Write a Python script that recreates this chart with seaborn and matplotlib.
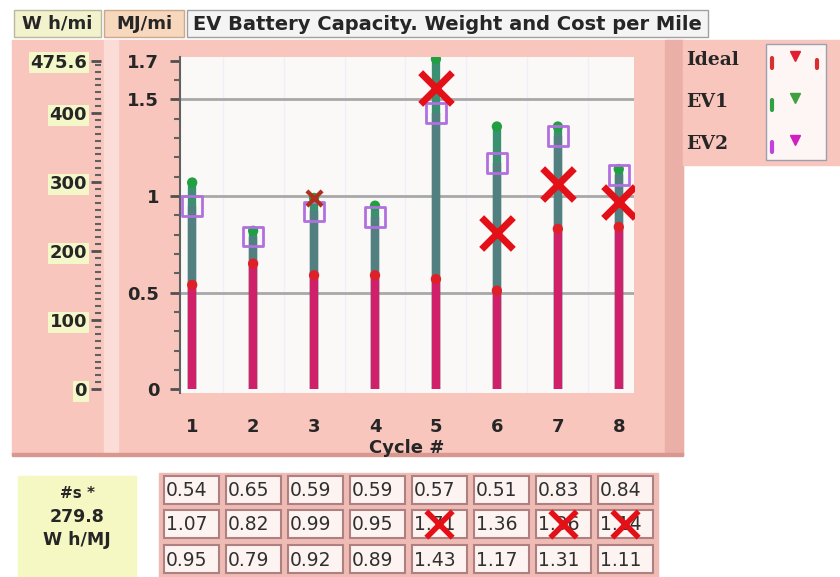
import numpy as np
import pandas as pd
import seaborn as sns
import matplotlib.pyplot as plt
from matplotlib.patches import Rectangle

# values per cycle
cycles = [1, 2, 3, 4, 5, 6, 7, 8]
ideal = [0.54, 0.65, 0.59, 0.59, 0.57, 0.51, 0.83, 0.84]
ev1 = [1.07, 0.82, 0.99, 0.95, 1.71, 1.36, 1.36, 1.14]
ev2 = [0.95, 0.79, 0.92, 0.89, 1.43, 1.17, 1.31, 1.11]

# red cursor crosses drawn on the plot
cross_cycles = [5, 6, 7, 8]
cross_vals = [1.56, 0.81, 1.06, 0.97]
small_cross_cycles = [3]
small_cross_vals = [0.99]
table_cross_cols = [5, 7, 8]

wh_per_mj = 279.8
wh_ticks = [0, 100, 200, 300, 400, 475.6]
mj_ticks = [0, 0.5, 1, 1.5, 1.7]
series_names = ['Ideal', 'EV1', 'EV2']

W, H = 840, 577
PINK = '#f9c6be'


def rect(x0, y0, x1, y1):
    return [x0 / W, 1 - y1 / H, (x1 - x0) / W, (y1 - y0) / H]


sns.set_theme(style='white')
plt.rcParams['font.family'] = ['DejaVu Sans']

fig = plt.figure(figsize=(8.4, 5.77), dpi=100)
fig.patch.set_facecolor('white')

# background overlay in pixel coordinates
bg = fig.add_axes([0, 0, 1, 1], zorder=0)
bg.set_xlim(0, W)
bg.set_ylim(H, 0)
bg.axis('off')
bg.add_patch(Rectangle((12, 40), 671, 415, color=PINK))
bg.add_patch(Rectangle((104, 40), 14, 415, color='#fcdcd6'))
bg.add_patch(Rectangle((665, 40), 18, 415, color='#eab0a8'))
bg.add_patch(Rectangle((12, 453), 671, 3, color='#d89890'))
# title boxes
bg.add_patch(Rectangle((14, 10), 87, 27, facecolor='#f2f2cc', edgecolor='#b8b8a0', lw=1))
bg.add_patch(Rectangle((104, 10), 80, 27, facecolor='#f8d8bc', edgecolor='#c8a890', lw=1))
bg.add_patch(Rectangle((187, 10), 521, 27, facecolor='#f4f4f4', edgecolor='#a0a0a0', lw=1))
bg.text(57, 24, 'W h/mi', ha='center', va='center', fontsize=13, fontweight='bold')
bg.text(144, 24, 'MJ/mi', ha='center', va='center', fontsize=13, fontweight='bold')
bg.text(447, 24, 'EV Battery Capacity. Weight and Cost per Mile', ha='center',
        va='center', fontsize=14, fontweight='bold')

# legend panel
bg.add_patch(Rectangle((683, 40), 157, 125, color=PINK))
bg.add_patch(Rectangle((766, 44), 60, 116, facecolor='#fdf6f4', edgecolor='#9aa0b0', lw=1))
leg_colors = [('#d83030', '#e02030'), ('#30a040', '#40a040'), ('#c040e0', '#d020c0')]
for i, name in enumerate(series_names):
    yy = 60 + i * 42
    bg.text(686, yy, name, ha='left', va='center', fontsize=13.5,
            fontweight='bold', family='DejaVu Serif')
    c1, c2 = leg_colors[i]
    bg.plot([772, 772], [yy - 2, yy + 8], color=c1, lw=3)
    bg.plot([795], [yy - 4], marker='v', color=c2, ms=7)
    if i == 0:
        bg.plot([817, 817], [yy, yy + 8], color=c1, lw=3)

# bottom info box and value table
bg.add_patch(Rectangle((18, 476), 118, 101, color='#f6f8c4'))
bg.text(77, 494, '#s *', ha='center', va='center', fontsize=11, fontweight='bold')
bg.text(77, 517, '279.8', ha='center', va='center', fontsize=12.5, fontweight='bold')
bg.text(77, 540, 'W h/MJ', ha='center', va='center', fontsize=12.5, fontweight='bold')

bg.add_patch(Rectangle((159, 473), 499, 104, color='#eebcb4'))
rows = [ideal, ev1, ev2]
row_y = [490, 524, 559]
for r, vals in enumerate(rows):
    for c, v in enumerate(vals):
        x0 = 164 + 62 * c
        bg.add_patch(Rectangle((x0, row_y[r] - 14), 55, 28, facecolor='#fdf4f2',
                               edgecolor='#b08080', lw=1.5))
        bg.text(x0 + 2, row_y[r] + 1, f'{v:.2f}', ha='left', va='center',
                fontsize=13.5, color='#303030')
tx = [164 + 62 * (c - 1) + 27 for c in table_cross_cols]
bg.scatter(tx, [row_y[1]] * len(tx), marker='x', s=360, color='#e41018', linewidths=4, zorder=5)

# main plot (MJ/mi)
ax = fig.add_axes(rect(180, 57, 634, 393), zorder=2)
ax.set_facecolor('#fbf8f8')
ax.set_xlim(0.8, 8.25)
ax.set_ylim(-0.02, 1.72)
for v in [0.5, 1, 1.5]:
    ax.axhline(v, color='#a8a8a8', lw=2, zorder=1)
for c in cycles:
    ax.axvline(c + 0.5, color='#f0eef8', lw=1, zorder=0.5)

ax.vlines(cycles, 0, ev1, color='#3a9070', lw=6, zorder=2)
ax.vlines(cycles, 0, ev2, color='#528080', lw=6, zorder=2.5)
ax.vlines(cycles, 0, ideal, color='#d0206a', lw=6, zorder=3)

df = pd.DataFrame({'cycle': cycles, 'ideal': ideal, 'ev1': ev1, 'ev2': ev2})
sns.scatterplot(data=df, x='cycle', y='ev1', ax=ax, color='#20a040', s=55,
                edgecolor='none', zorder=4)
sns.scatterplot(data=df, x='cycle', y='ideal', ax=ax, color='#e02028', s=55,
                edgecolor='none', zorder=4)
sns.scatterplot(data=df, x='cycle', y='ev2', ax=ax, marker='s', s=200,
                facecolor='none', edgecolor='#b070e0', linewidth=2, zorder=5)
sns.scatterplot(x=cross_cycles, y=cross_vals, ax=ax, marker='x', s=520,
                color='#e41018', linewidth=5, zorder=6)
sns.scatterplot(x=small_cross_cycles, y=small_cross_vals, ax=ax, marker='x', s=120,
                color='#b03020', linewidth=3, zorder=6)

ax.set_xticks(cycles)
ax.set_xticklabels([str(c) for c in cycles], fontsize=13, fontweight='bold')
ax.set_yticks(mj_ticks)
ax.set_yticklabels(['0', '0.5', '1', '1.5', '1.7'], fontsize=13, fontweight='bold')
ax.set_yticks(np.arange(0.1, 1.7, 0.1), minor=True)
ax.tick_params(axis='y', which='major', left=True, length=7, width=2, color='#505050', pad=8)
ax.tick_params(axis='y', which='minor', left=True, length=4, width=1.5, color='#606060')
ax.tick_params(axis='x', bottom=False, pad=12)
ax.set_xlabel('Cycle #', fontsize=13, fontweight='bold', labelpad=2)
ax.set_ylabel('')
for s in ['top', 'right', 'bottom']:
    ax.spines[s].set_visible(False)
ax.spines['left'].set_color('#606060')
ax.spines['left'].set_linewidth(1.5)

# secondary W h/mi scale
ax2 = fig.add_axes(rect(101, 57, 102, 393), zorder=2)
ax2.set_ylim(-0.02 * wh_per_mj, 1.72 * wh_per_mj)
ax2.set_xticks([])
ax2.set_yticks(wh_ticks)
ax2.set_yticklabels(['0', '100', '200', '300', '400', '475.6'], fontsize=13,
                    fontweight='bold')
ax2.set_yticks(np.arange(10, 475, 10), minor=True)
ax2.tick_params(axis='y', which='major', left=True, length=7, width=2,
                color='#505050', pad=3)
ax2.tick_params(axis='y', which='minor', left=True, length=4, width=1.5, color='#606060')
for lab in ax2.get_yticklabels():
    lab.set_bbox(dict(facecolor='#f4f8c8', edgecolor='none', pad=1))
for s in ax2.spines.values():
    s.set_visible(False)
ax2.patch.set_alpha(0)

fig.savefig('out.png', dpi=100)
